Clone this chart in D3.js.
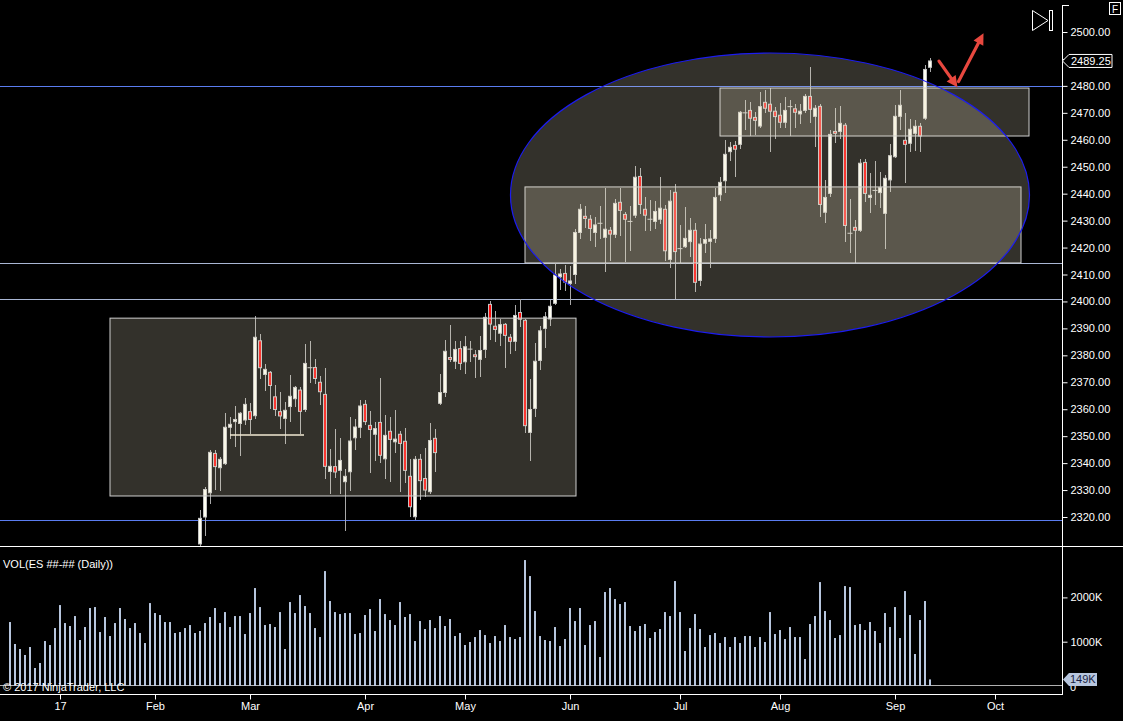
<!DOCTYPE html>
<html><head><meta charset="utf-8">
<script src="https://cdn.jsdelivr.net/npm/d3@7"></script>
<style>
html,body{margin:0;padding:0;background:#000;overflow:hidden}
text{font-family:"Liberation Sans",Arial,sans-serif}
</style>
</head><body>
<svg id="c" width="1123" height="721"></svg>
<script>
// ---------------- DATA ----------------
// daily bars indexed 0..184 (late Dec 2016 .. 12 Sep 2017)
const volumes = [
1444,948,835,700,880,406,519,1015,925,1308,
1827,1421,1354,1579,1038,1331,1760,1782,1218,1557,
1128,1421,1760,1512,1308,1421,1196,970,1872,1647,
1602,1444,1444,1196,1218,1308,1376,1196,1241,1421,
1557,1760,1421,1669,1331,1579,1579,1173,1647,2211,
1782,1376,1399,1331,1669,835,1895,1647,2053,1805,
1647,1308,1105,2594,1918,1669,1624,1647,1647,1173,
1196,1602,1737,1241,1963,1624,1489,1376,1895,1557,
1624,1015,1466,1286,1489,1308,1579,1354,1512,1128,
1196,925,993,1105,1263,1150,970,1128,1015,1376,
1105,1060,1105,2843,2482,1692,1128,1038,1015,1331,
902,1060,1760,1466,1760,925,1376,1466,654,2121,
2211,1963,1850,1895,1354,1241,1354,1399,1083,1218,
1286,1669,1579,2369,1669,790,1308,1624,1286,880,
1150,1196,970,1105,880,1105,970,1128,1128,880,
1105,993,1669,1173,1263,1060,1331,1105,1105,609,
1399,1579,2346,1692,1489,1083,1150,2256,2233,1376,
1399,1263,1444,1241,970,1647,1331,1782,1083,2143,
1602,722,1489,1918,149];

// price bars visible from bar index 38 onward (earlier bars lie below the panel)
const firstCandle = 38;
const opens = [
2310,2320,2329,2343.6,2338.3,2339.8,2353.3,2355.4,2354.7,2356,
2359.1,2357.6,2385.4,2372.9,2373.7,2364.6,2359.1,2356.6,2361,2363.9,
2367.1,2359.9,2375.4,2375.5,2370,2365.5,2336.9,2338.7,2337.3,2333.1,
2336.8,2349.4,2353.3,2361.8,2354,2350.7,2355.1,2341.6,2351.8,2347.9,
2350.7,2348.1,2335.1,2320.1,2341.4,2334.3,2329.4,2349.2,2362.2,2366.2,
2379.2,2377.8,2382.5,2377.6,2382.3,2380.2,2378.5,2382.2,2398.9,2390.8,
2388.2,2391.5,2386.7,2385.2,2395.9,2393,2351.4,2360.3,2378.1,2390,
2393.5,2399.3,2409.2,2410.4,2406.7,2410,2425.6,2431.6,2430.5,2425.6,
2429,2423.8,2426.4,2424.9,2436.8,2432.3,2429.7,2432,2446.4,2434.2,
2430.5,2429.7,2430.5,2434.2,2415.6,2440.5,2419.6,2420.3,2422.2,2426.4,
2407.8,2421.6,2422.3,2423.4,2439.6,2444.8,2455.6,2457.9,2458.3,2470,
2470.9,2468.3,2465.1,2473.9,2473.2,2470.6,2469.1,2466.5,2472.3,2471.5,
2469.6,2470.9,2476.1,2468.7,2472.4,2433.1,2440.1,2463.1,2463.1,2465.4,
2425.3,2427.5,2426.4,2451.6,2438.6,2441.2,2440.4,2432.7,2445.1,2453.7,
2468.7,2459.8,2458.7,2462.4,2465,2468,2486.9];
const highs = [
2322.6,2331,2344.8,2344.8,2342.4,2358.5,2357,2361.2,2359,2364.1,
2362.2,2394.6,2387.9,2376.6,2374.3,2369,2366.3,2362.8,2372.7,2368.7,
2368.1,2384.2,2385.3,2378.6,2372.3,2375.2,2345.2,2352.6,2349.2,2338,
2357.1,2356.2,2363.4,2363.4,2359.4,2355.2,2371.6,2357.8,2357.1,2359.7,
2352.1,2353,2341.5,2342.6,2343.4,2345.6,2354.9,2352.6,2373,2385.7,
2391.2,2385.3,2385.3,2387.2,2385.3,2382,2387.2,2395.6,2400.2,2396.4,
2393.5,2392.1,2387.9,2398.5,2400.8,2393.3,2371.4,2384.7,2390.9,2395.9,
2400.5,2414.1,2411.9,2413.4,2413.1,2426.8,2436.2,2435.4,2432.1,2431.2,
2435.4,2442,2427.7,2438,2442,2433.3,2435.4,2450.3,2449.6,2438.9,
2437.6,2437.4,2446.2,2435.8,2441.4,2443.6,2428.4,2435,2430.8,2429,
2423.4,2428.7,2426.5,2442.2,2446.1,2459.9,2459.1,2459.5,2470.7,2474.8,
2473.9,2470.2,2477.6,2478.5,2479.3,2472,2473.5,2475.8,2474.6,2473.2,
2473.2,2476.9,2487,2472.8,2473.2,2444.9,2463.5,2471.7,2472.5,2466.1,
2438.1,2430.2,2453,2453,2447.8,2452.1,2448,2446.9,2458.4,2472.9,
2478.5,2469.9,2467.6,2467.2,2466.1,2487.8,2490.2];
const lows = [
2307,2313,2324.7,2330,2329.7,2339.3,2348.8,2346.1,2342.7,2354.1,
2350.8,2356.4,2371.2,2366.9,2360,2357.6,2352.8,2347.1,2355.4,2360.9,
2350.8,2359,2369.6,2369.2,2361.7,2334.2,2328.6,2334.6,2328.5,2314.7,
2329.7,2344.8,2349.3,2354.1,2336.4,2340.9,2340.1,2334.1,2333.1,2343.9,
2329.4,2332.5,2320.1,2318.9,2326.3,2327.5,2328.5,2336.8,2361.5,2364.6,
2377.6,2375,2374.5,2373,2377.6,2371.7,2372.1,2378.9,2385.7,2385.1,
2383.6,2375.4,2380.6,2381.7,2390.4,2351,2340.9,2357.2,2374.5,2382.8,
2391,2398.7,2404.2,2404,2398.7,2406.5,2423,2427.1,2422.5,2420.3,
2423.3,2411,2415.1,2423.7,2424.3,2414.8,2418.8,2431.1,2432.3,2426.3,
2426.3,2426.8,2428.7,2415.1,2412.3,2400.8,2413.9,2419.7,2416.6,2403.6,
2405.8,2417.8,2412.3,2421.6,2437.4,2440.4,2452.2,2446.3,2456.5,2463.6,
2461.4,2461.8,2464.2,2470.1,2455.6,2460.2,2464.2,2464.2,2461.4,2464.2,
2465.9,2469.8,2466.1,2457.4,2431.2,2429,2438.6,2458.7,2460.2,2422.2,
2418.1,2414.4,2425.9,2437,2432.9,2435.9,2434.6,2419.6,2440.7,2453.1,
2463.5,2444.1,2455.6,2456,2455.6,2467.2,2485.3];
const closes = [
2319.5,2330.2,2344,2338.7,2341.4,2353.3,2354.4,2356.2,2358.5,2361.8,
2356.2,2386.7,2375.4,2374.8,2368.8,2359.9,2357.5,2359.6,2364.8,2368.1,
2359.2,2377,2375.4,2371.4,2366.5,2338.8,2338.8,2336.7,2341,2335.1,
2348.2,2353.4,2361.2,2355.4,2352.5,2352.8,2342.9,2350.3,2348.8,2348.9,
2347.3,2337.3,2323.8,2341.4,2333.5,2330,2348.4,2343.9,2366.2,2381.5,
2378.5,2382.2,2377,2383.2,2382.5,2379.5,2381.8,2394.1,2391.6,2389.6,
2391.4,2387.4,2385.2,2394.8,2393.4,2353.9,2359.9,2377.8,2389.1,2394.3,
2398.2,2409.8,2410.2,2407.2,2407.6,2425.6,2434.2,2430.8,2427.1,2428.4,
2429,2426.8,2425,2436.4,2433.8,2430.5,2429.7,2446.1,2436,2432,
2430.5,2433.4,2434.6,2418.8,2437.2,2418.5,2419.6,2423.4,2426.4,2407.1,
2421.3,2423,2423.2,2438.6,2444.2,2454.6,2457.2,2456.5,2470.2,2470,
2468,2467.2,2472.3,2471.7,2470.6,2468.6,2466.5,2470.9,2472.3,2470.2,
2470.6,2476.1,2471.3,2471.7,2436,2438.6,2462,2462.4,2466.1,2428.2,
2425.3,2426.4,2451.3,2440.1,2439.4,2441.2,2442.2,2445.7,2454.1,2468.7,
2472.8,2458.3,2463.9,2465,2461.4,2486.1,2489.25];

const priceTicks = [2320,2330,2340,2350,2360,2370,2380,2390,2400,2410,2420,2430,2440,2450,2460,2470,2480,2490,2500];
const volTicks = [1000,2000];
const monthIdx = [10,29,48,71,91,112,134,154,177,197];
const monthLabels = ['17','Feb','Mar','Apr','May','Jun','Jul','Aug','Sep','Oct'];
const lastPrice = 2489.25;
const lastVolume = 149;

// drawing objects (bar index, price)
const hLinesBlue = [2480, 2318.9];
const hLinesGrey = [2414.3, 2400.9];
const shortLine = {i0:44, i1:58.8, p:2350.4};
const boxes = [
  {i0:20, i1:113.2, p0:2393.8, p1:2327.8},
  {i0:103, i1:202.2, p0:2442.5, p1:2414.3},
  {i0:142, i1:203.8, p0:2479.2, p1:2461.4}
];
const ellipseObj = {ci:152, cp:2439.5, ri:51.9, rp:52.7};
const arrows = [
  {i0:185.8, p0:2489.2, i1:189.5, p1:2479.5},
  {i0:189.7, p0:2481.6, i1:194.7, p1:2499.5}
];

// ---------------- CHART ----------------
const svg = d3.select('#c');
svg.append('rect').attr('width',1123).attr('height',721).attr('fill','#000');

const x = d3.scaleLinear().domain([0,210]).range([10,1060]);
const yP = d3.scaleLinear().domain([2320,2500]).range([517,32]);
const yV = d3.scaleLinear().domain([0,2000]).range([686,597.4]);
const AX = 1062;

svg.append('clipPath').attr('id','pc').append('rect').attr('x',0).attr('y',0).attr('width',AX).attr('height',546);
const pg = svg.append('g').attr('clip-path','url(#pc)');

// horizontal lines
pg.selectAll('.hb').data(hLinesBlue).enter().append('line')
  .attr('x1',0).attr('x2',AX).attr('y1',d=>Math.round(yP(d))+0.5).attr('y2',d=>Math.round(yP(d))+0.5)
  .attr('stroke','#5a7cf0').attr('stroke-width',1);
pg.selectAll('.hg').data(hLinesGrey).enter().append('line')
  .attr('x1',0).attr('x2',AX).attr('y1',d=>Math.round(yP(d))+0.5).attr('y2',d=>Math.round(yP(d))+0.5)
  .attr('stroke','#a9b6d4').attr('stroke-width',1);

// candles
const candles = opens.map((o,j)=>({i:j+firstCandle,o,h:highs[j],l:lows[j],c:closes[j]}));
const cg = pg.append('g');
cg.selectAll('.w').data(candles).enter().append('line')
  .attr('x1',d=>x(d.i)).attr('x2',d=>x(d.i))
  .attr('y1',d=>yP(d.h)).attr('y2',d=>yP(d.l))
  .attr('stroke','#a8a8a8').attr('stroke-width',1).attr('shape-rendering','crispEdges');
cg.selectAll('.b').data(candles.filter(d=>Math.abs(d.o-d.c)>=0.4)).enter().append('rect')
  .attr('x',d=>x(d.i)-1.5).attr('width',3)
  .attr('y',d=>yP(Math.max(d.o,d.c)))
  .attr('height',d=>Math.abs(yP(d.o)-yP(d.c)))
  .attr('fill',d=>d.c>=d.o?'#fffff2':'#ff0a0a')
  .attr('stroke','#c4c4c4').attr('stroke-width',1);
cg.selectAll('.dj').data(candles.filter(d=>Math.abs(d.o-d.c)<0.4)).enter().append('line')
  .attr('x1',d=>x(d.i)-2.5).attr('x2',d=>x(d.i)+2.5)
  .attr('y1',d=>yP(d.o)).attr('y2',d=>yP(d.o))
  .attr('stroke','#c4c4c4').attr('stroke-width',1);

// short horizontal line
pg.append('line').attr('x1',x(shortLine.i0)).attr('x2',x(shortLine.i1))
  .attr('y1',yP(shortLine.p)).attr('y2',yP(shortLine.p))
  .attr('stroke','#f2ead6').attr('stroke-width',1.5);

// boxes & ellipse (translucent, on top)
const ov = 'rgba(238,226,200,0.215)';
pg.selectAll('.bx').data(boxes).enter().append('rect')
  .attr('x',d=>x(d.i0)).attr('width',d=>x(d.i1)-x(d.i0))
  .attr('y',d=>yP(d.p0)).attr('height',d=>yP(d.p1)-yP(d.p0))
  .attr('fill',ov).attr('stroke','#cfcfcf').attr('stroke-width',1);
pg.append('ellipse')
  .attr('cx',x(ellipseObj.ci)).attr('cy',yP(ellipseObj.cp))
  .attr('rx',x(ellipseObj.ri)-x(0)).attr('ry',yP(ellipseObj.cp-ellipseObj.rp)-yP(ellipseObj.cp))
  .attr('fill',ov).attr('stroke','#1c1cf0').attr('stroke-width',1.2);

// arrows
arrows.forEach(a=>{
  const x0=x(a.i0),y0=yP(a.p0),x1=x(a.i1),y1=yP(a.p1);
  const ang=Math.atan2(y1-y0,x1-x0), L=11, W=5.5;
  const bx=x1-L*Math.cos(ang), by=y1-L*Math.sin(ang);
  pg.append('line').attr('x1',x0).attr('y1',y0).attr('x2',bx+2*Math.cos(ang)).attr('y2',by+2*Math.sin(ang))
    .attr('stroke','#e8483f').attr('stroke-width',3.2).attr('stroke-linecap','round');
  pg.append('path').attr('d',`M${x1},${y1}L${bx+W*Math.sin(ang)},${by-W*Math.cos(ang)}L${bx-W*Math.sin(ang)},${by+W*Math.cos(ang)}Z`)
    .attr('fill','#e8483f');
});

// volume bars
const vg = svg.append('g');
vg.append('line').attr('x1',0).attr('x2',AX).attr('y1',685.5).attr('y2',685.5).attr('stroke','#b0b0b0').attr('stroke-width',1);
vg.selectAll('.v').data(volumes).enter().append('rect')
  .attr('x',(d,i)=>x(i)-1).attr('width',2)
  .attr('y',d=>yV(d)).attr('height',d=>yV(0)-yV(d))
  .attr('fill','#b7c6de');

// separator & frame lines
svg.append('line').attr('x1',0).attr('x2',1123).attr('y1',546.5).attr('y2',546.5).attr('stroke','#fff').attr('stroke-width',1);
svg.append('line').attr('x1',AX+0.5).attr('x2',AX+0.5).attr('y1',5).attr('y2',694).attr('stroke','#fff').attr('stroke-width',1);
svg.append('line').attr('x1',AX).attr('x2',AX+7).attr('y1',5.5).attr('y2',5.5).attr('stroke','#fff');

// price axis
const pa = svg.append('g').attr('transform',`translate(${AX+0.5},0)`)
  .call(d3.axisRight(yP).tickValues(priceTicks).tickFormat(d3.format('.2f')).tickSize(5).tickPadding(3));
pa.select('.domain').remove();
pa.selectAll('line').attr('stroke','#fff');
pa.selectAll('text').attr('fill','#fff').attr('font-size',11).attr('font-family','"Liberation Sans",Arial,sans-serif');

// volume axis
const va = svg.append('g').attr('transform',`translate(${AX+0.5},0)`)
  .call(d3.axisRight(yV).tickValues(volTicks).tickFormat(d=>d+'K').tickSize(5).tickPadding(3));
va.select('.domain').remove();
va.selectAll('line').attr('stroke','#fff');
va.selectAll('text').attr('fill','#fff').attr('font-size',11).attr('font-family','"Liberation Sans",Arial,sans-serif');
svg.append('text').attr('x',AX+8).attr('y',yV(0)+1).attr('dy','0.35em').attr('fill','#fff').attr('font-size',11).text('0');

// time axis
svg.append('line').attr('x1',0).attr('x2',AX+1).attr('y1',694.5).attr('y2',694.5).attr('stroke','#fff');
const ta = svg.append('g').attr('transform','translate(0,694.5)')
  .call(d3.axisBottom(x).tickValues(monthIdx).tickFormat((d,i)=>monthLabels[i]).tickSize(5).tickPadding(3));
ta.select('.domain').remove();
ta.selectAll('line').attr('stroke','#fff');
ta.selectAll('text').attr('fill','#fff').attr('font-size',11).attr('font-family','"Liberation Sans",Arial,sans-serif');

// last price marker
const ly = yP(lastPrice);
svg.append('path').attr('d',`M${AX+0.5},${ly}L${AX+7},${ly-6.5}L${AX+50},${ly-6.5}L${AX+50},${ly+6.5}L${AX+7},${ly+6.5}Z`)
  .attr('fill','#000').attr('stroke','#fff').attr('stroke-width',1);
svg.append('text').attr('x',AX+9).attr('y',ly).attr('dy','0.35em').attr('fill','#fff').attr('font-size',11).text(d3.format('.2f')(lastPrice));

// last volume marker
const lvy = yV(lastVolume);
svg.append('path').attr('d',`M${AX+1},${lvy}L${AX+7},${lvy-6.5}L${AX+35},${lvy-6.5}L${AX+35},${lvy+6.5}L${AX+7},${lvy+6.5}Z`)
  .attr('fill','#b7c6de');
svg.append('text').attr('x',AX+8).attr('y',lvy).attr('dy','0.35em').attr('fill','#1a1f44').attr('font-size',11).text(lastVolume+'K');

// labels
svg.append('text').attr('x',3).attr('y',568).attr('fill','#fff').attr('font-size',11).text('VOL(ES ##-## (Daily))');
svg.append('text').attr('x',3).attr('y',691).attr('fill','#fff').attr('font-size',11).text('© 2017 NinjaTrader, LLC');

// icons
svg.append('path').attr('d','M1032.5,10.5L1048,20.5L1032.5,30.5Z').attr('fill','none').attr('stroke','#fff').attr('stroke-width',1);
svg.append('rect').attr('x',1049.5).attr('y',10.5).attr('width',3).attr('height',20).attr('fill','none').attr('stroke','#fff').attr('stroke-width',1);
svg.append('rect').attr('x',1109.5).attr('y',2.5).attr('width',11).attr('height',12).attr('fill','#000').attr('stroke','#fff').attr('stroke-width',1);
svg.append('text').attr('x',1115).attr('y',12.5).attr('text-anchor','middle').attr('fill','#fff').attr('font-size',10).text('F');
</script>
</body></html>
